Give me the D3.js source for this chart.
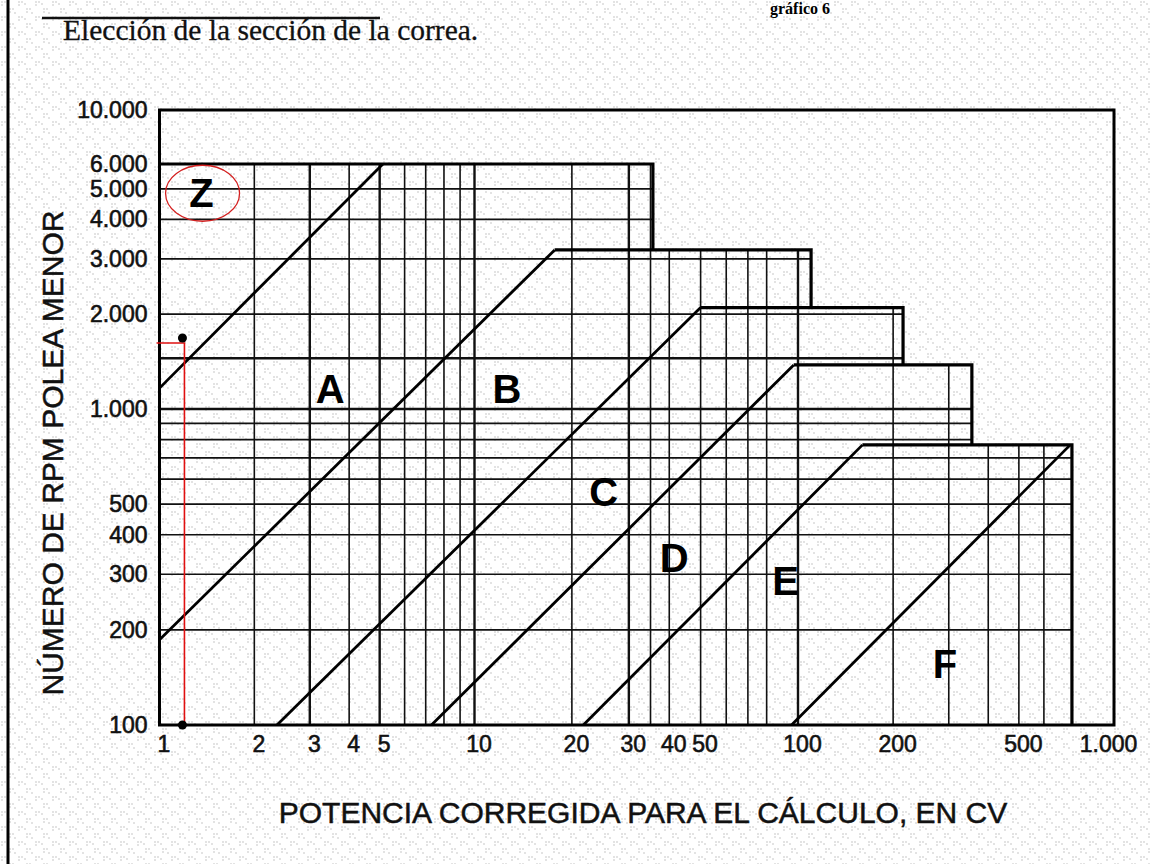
<!DOCTYPE html>
<html>
<head>
<meta charset="utf-8">
<script src="https://cdn.jsdelivr.net/npm/d3@7"></script>
<style>
  body { margin: 0; background: #fff; }
  svg { display: block; }
</style>
</head>
<body>
<svg id="chart" width="1151" height="864"></svg>
<script>
// tick labels (potencia CV / rpm)
const xTicks = [1, 2, 3, 4, 5, 10, 20, 30, 40, 50, 100, 200, 500, 1000];
const xTickLabels = ["1", "2", "3", "4", "5", "10", "20", "30", "40", "50", "100", "200", "500", "1.000"];
const yTicks = [100, 200, 300, 400, 500, 1000, 2000, 3000, 4000, 5000, 6000, 10000];
const yTickLabels = ["100", "200", "300", "400", "500", "1.000", "2.000", "3.000", "4.000", "5.000", "6.000", "10.000"];

// grid lines inside the section area
const xGrid = [2, 3, 4, 5, 6, 7, 8, 9, 10, 20, 30, 35, 40, 50, 60, 70, 80, 100, 200, 300, 400, 500, 600];
const yGrid = [200, 300, 400, 500, 600, 700, 800, 900, 1000, 1450, 2000, 3000, 4000, 5000];

// steps of the outline: top rpm and right limit (CV) of each step
const boxTop = [6000, 3200, 2100, 1380, 770];
const boxRight = [35.6, 110, 215, 355, 736];

// limit lines between sections: start and end point [CV, rpm]
const limitStart = [[1, 1165], [1, 186], [2.36, 100], [7.3, 100], [21.7, 100], [95.5, 100]];
const limitEnd = [[5.12, 6000], [17.7, 3200], [50, 2100], [97, 1380], [160, 770], [727, 770]];

// section names and where they are written [CV, rpm]
const sections = ["Z", "A", "B", "C", "D", "E", "F"];
const sectionAt = [[1.36, 4880], [3.48, 1165], [12.6, 1160], [25.1, 548], [41.4, 338], [91.6, 287], [292, 156]];

// worked example drawn in red
const example = [1.2, 1620];

const svg = d3.select("#chart");
const font = "'Liberation Sans', Arial, Helvetica, sans-serif";
const serif = "'Liberation Serif', 'Times New Roman', serif";

// scanned paper grain
const defs = svg.append("defs");
const grain = defs.append("pattern")
    .attr("id", "grain")
    .attr("width", 17).attr("height", 15)
    .attr("patternUnits", "userSpaceOnUse");
[[2, 2], [5, 2], [2, 5], [10, 9], [13, 9], [10, 12], [8, 4], [15, 13]].forEach(p => {
  grain.append("circle").attr("cx", p[0]).attr("cy", p[1]).attr("r", 0.8).attr("fill", "#8a8a8a");
});
svg.append("rect").attr("width", 1151).attr("height", 864).attr("fill", "url(#grain)").attr("opacity", 0.55);

// log scales, the scan is not perfectly regular so they are piecewise
const x = d3.scaleLog().domain([1, 10, 100, 1000]).range([159.5, 474.5, 798, 1114]);
const y = d3.scaleLog().domain([100, 1000, 6000, 10000]).range([725, 409, 164, 110]);

// page decoration
svg.append("line").attr("x1", 8).attr("x2", 8).attr("y1", 0).attr("y2", 864)
    .attr("stroke", "#000").attr("stroke-width", 3);
svg.append("line").attr("x1", 42).attr("x2", 380).attr("y1", 18).attr("y2", 18)
    .attr("stroke", "#111").attr("stroke-width", 2.5);
svg.append("text").attr("x", 800).attr("y", 14)
    .attr("text-anchor", "middle")
    .style("font-family", serif)
    .style("font-size", "16px").style("font-weight", "bold")
    .text("gráfico 6");
svg.append("text").attr("x", 63).attr("y", 40)
    .style("font-family", serif)
    .style("font-size", "29.5px").attr("fill", "#111")
    .attr("stroke", "#111").attr("stroke-width", 0.3)
    .text("Elección de la sección de la correa.");

// which step covers a given power / rpm
function topAt(p) {
  for (let i = 0; i < boxTop.length; i++) if (p <= boxRight[i]) return boxTop[i];
  return 100;
}
function rightAt(r) {
  let R = 1;
  boxTop.forEach((t, i) => { if (t >= r) R = boxRight[i]; });
  return R;
}

const plot = svg.append("g");

// vertical grid
plot.selectAll("line.vg")
  .data(xGrid)
  .enter()
    .append("line")
    .attr("class", "vg")
    .attr("x1", d => x(d)).attr("x2", d => x(d))
    .attr("y1", y(100)).attr("y2", d => y(topAt(d)))
    .attr("stroke", "#111")
    .attr("stroke-width", d => [3, 5, 10, 30, 100].includes(d) ? 2.4 : 1.6);

// horizontal grid
plot.selectAll("line.hg")
  .data(yGrid)
  .enter()
    .append("line")
    .attr("class", "hg")
    .attr("x1", x(1)).attr("x2", d => x(rightAt(d)))
    .attr("y1", d => y(d)).attr("y2", d => y(d))
    .attr("stroke", "#111")
    .attr("stroke-width", d => [1000, 1450].includes(d) ? 2.6 : 1.7);

// step outline: top of each step and its right side
const boxLeft = [1].concat(limitEnd.slice(1, 5).map(d => d[0]));
plot.selectAll("path.step")
  .data(boxTop)
  .enter()
    .append("path")
    .attr("class", "step")
    .attr("d", (t, i) => {
      const below = i < boxTop.length - 1 ? boxTop[i + 1] : 100;
      return "M" + x(boxLeft[i]) + "," + y(t) +
             "H" + x(boxRight[i]) +
             "V" + y(below);
    })
    .attr("fill", "none")
    .attr("stroke", "#000")
    .attr("stroke-width", 3.2);

// limit lines between the sections
plot.selectAll("line.limit")
  .data(limitStart)
  .enter()
    .append("line")
    .attr("class", "limit")
    .attr("x1", d => x(d[0])).attr("y1", d => y(d[1]))
    .attr("x2", (d, i) => x(limitEnd[i][0])).attr("y2", (d, i) => y(limitEnd[i][1]))
    .attr("stroke", "#000")
    .attr("stroke-width", 2.8);

// frame
plot.append("rect")
    .attr("x", x(1)).attr("y", y(10000))
    .attr("width", x(1000) - x(1)).attr("height", y(100) - y(10000))
    .attr("fill", "none").attr("stroke", "#000").attr("stroke-width", 3);

// section letters
plot.selectAll("text.sec")
  .data(sections)
  .enter()
    .append("text")
    .attr("class", "sec")
    .attr("x", (d, i) => x(sectionAt[i][0]))
    .attr("y", (d, i) => y(sectionAt[i][1]))
    .attr("text-anchor", "middle")
    .attr("dy", "0.36em")
    .style("font-family", font)
    .style("font-size", "40px")
    .style("font-weight", "bold")
    .text(d => d);

// red ring round Z
plot.append("ellipse")
    .attr("cx", x(sectionAt[0][0]) + 1).attr("cy", y(sectionAt[0][1]) + 1)
    .attr("rx", 37).attr("ry", 28)
    .attr("fill", "none").attr("stroke", "#d42020").attr("stroke-width", 1.3);

// red example line
plot.append("path")
    .attr("d", "M" + (x(1) - 3) + "," + y(example[1]) + "H" + x(example[0]) + "V" + y(100))
    .attr("fill", "none").attr("stroke", "#e01010").attr("stroke-width", 1.6);
plot.selectAll("circle.ex")
  .data([example[1], 100])
  .enter()
    .append("circle")
    .attr("class", "ex")
    .attr("cx", x(example[0]) - 2).attr("cy", d => y(d) - (d > 100 ? 5 : 0))
    .attr("r", 4.5).attr("fill", "#000");

// axes
const yAxis = svg.append("g")
    .attr("transform", "translate(" + x(1) + ",0)")
    .call(d3.axisLeft(y).tickValues(yTicks).tickFormat((d, i) => yTickLabels[i]).tickSize(0).tickPadding(12));
const xAxis = svg.append("g")
    .attr("transform", "translate(0," + y(100) + ")")
    .call(d3.axisBottom(x).tickValues(xTicks).tickFormat((d, i) => xTickLabels[i]).tickSize(0).tickPadding(11));
[yAxis, xAxis].forEach(a => {
  a.select(".domain").remove();
  a.selectAll("text")
    .style("font-family", font)
    .style("font-size", "23px")
    .attr("fill", "#111")
    .attr("stroke", "#111").attr("stroke-width", 0.6);
});
xAxis.selectAll("text").attr("dx", (d, i) => i === xTicks.length - 1 ? -6 : 4);

// axis titles
svg.append("text")
    .attr("transform", "translate(63,453) rotate(-90)")
    .attr("text-anchor", "middle")
    .style("font-family", font).style("font-size", "30px")
    .attr("fill", "#111").attr("stroke", "#111").attr("stroke-width", 0.5)
    .text("NÚMERO DE RPM POLEA MENOR");
svg.append("text")
    .attr("x", 643).attr("y", 823)
    .attr("text-anchor", "middle")
    .style("font-family", font).style("font-size", "30px")
    .attr("fill", "#111").attr("stroke", "#111").attr("stroke-width", 0.5)
    .text("POTENCIA CORREGIDA PARA EL CÁLCULO, EN CV");
</script>
</body>
</html>
